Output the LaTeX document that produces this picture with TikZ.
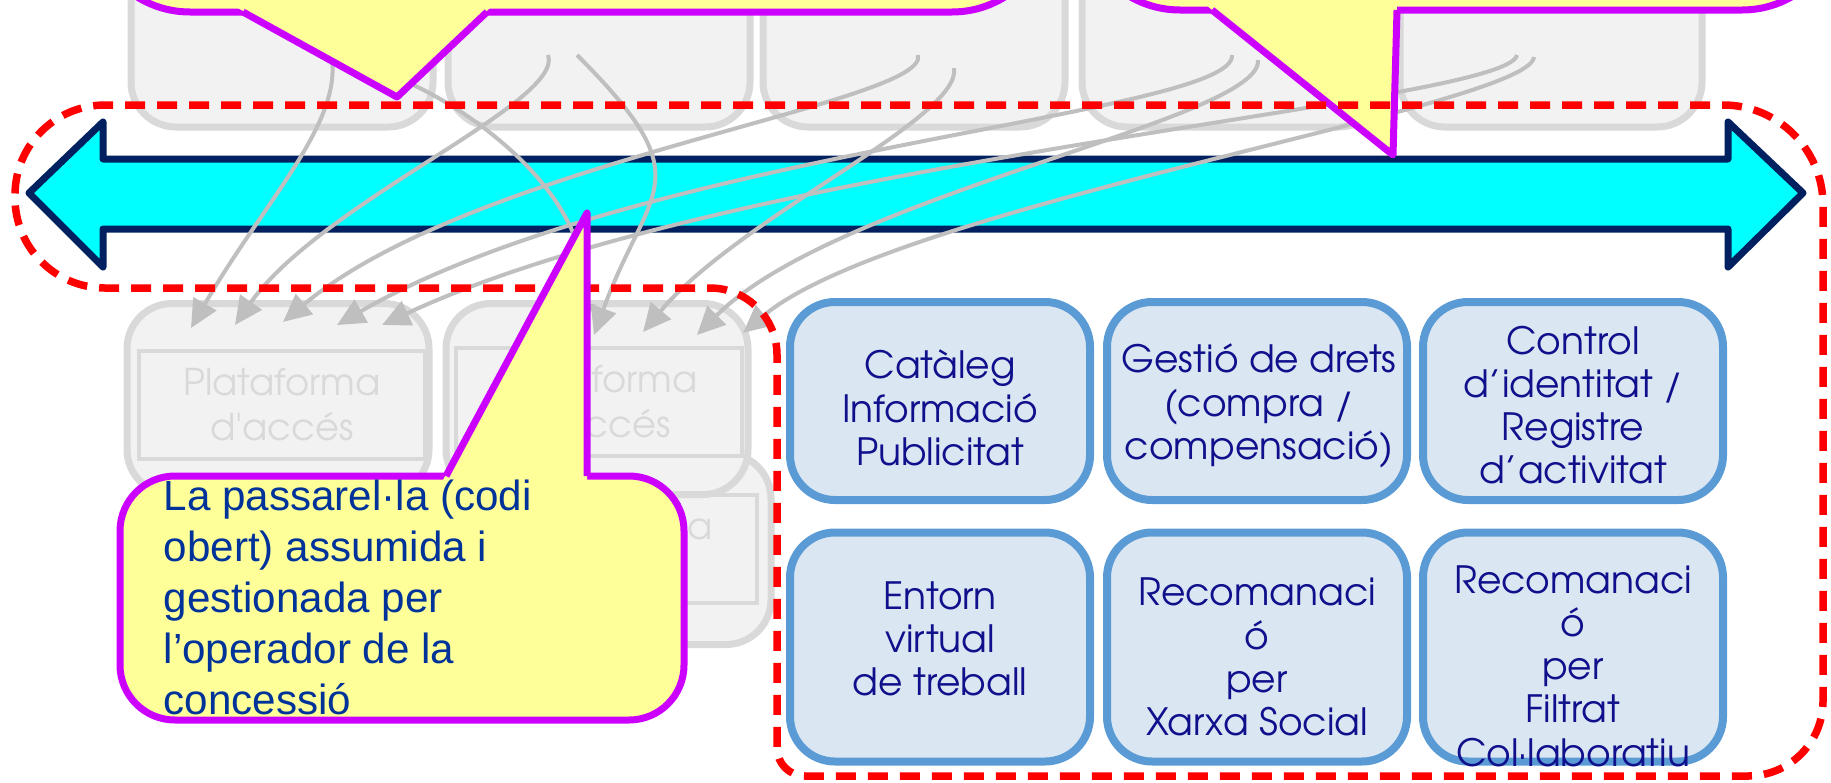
\documentclass[tikz,border=0pt]{standalone}
\usepackage{fontspec}
\setmainfont{Liberation Sans}
\newfontfamily\gothicfont{texgyreadventor-regular.otf}
\usetikzlibrary{arrows.meta}
\definecolor{navyline}{RGB}{0, 32, 96}
\definecolor{busfill}{RGB}{0, 255, 255}
\definecolor{notefill}{RGB}{255, 255, 153}
\definecolor{noteline}{RGB}{204, 0, 255}
\definecolor{notetext}{RGB}{0, 51, 153}
\definecolor{dashred}{RGB}{255, 0, 0}
\definecolor{boxfill}{RGB}{218, 230, 242}
\definecolor{boxline}{RGB}{91, 155, 213}
\definecolor{boxtext}{RGB}{16, 16, 140}
\definecolor{greyfill}{RGB}{242, 242, 242}
\definecolor{greyline}{RGB}{217, 217, 217}
\definecolor{greyflow}{RGB}{191, 191, 191}

\begin{document}
\begin{tikzpicture}[
    greybox/.style={rectangle, rounded corners=4.5mm, draw=greyline, fill=greyfill,
                    line width=0.7mm, minimum width=3.02cm},
    greyinner/.style={rectangle, draw=greyline, line width=0.35mm, minimum width=2.86cm,
                      minimum height=1.08cm, align=center, text=greyline, inner sep=0pt,
                      font=\gothicfont\fontsize{10.5}{12.8}\selectfont},
    service/.style={rectangle, rounded corners=4.5mm, draw=boxline, fill=boxfill,
                    line width=0.8mm, minimum width=3.0cm},
    servicetext/.style={align=center, text=boxtext, inner sep=0pt,
                        font=\gothicfont\fontsize{10.7}{12.3}\selectfont},
    flow/.style={greyflow, line width=0.4mm, -{Triangle[length=2.8mm, width=2.6mm]}},
    note/.style={fill=notefill, draw=noteline, line width=0.7mm},
    noteedge/.style={noteline, line width=0.7mm, line join=round},
    notetextstyle/.style={align=left, text=notetext, inner sep=0pt,
                          font=\fontsize{12}{14.5}\selectfont}]

    \useasboundingbox (0,0) rectangle (18.31,-7.82);
    \clip (0,0) rectangle (18.31,-7.82);

    % Platforms above the bus
    \node[greybox, minimum height=2.8cm] (top1) at (2.82, 0.13) {};
    \node[greybox, minimum height=2.8cm] (top2) at (5.99, 0.13) {};
    \node[greybox, minimum height=2.8cm] (top3) at (9.14, 0.13) {};
    \node[greybox, minimum height=2.8cm] (top4) at (12.33, 0.13) {};
    \node[greybox, minimum height=2.8cm] (top5) at (15.51, 0.13) {};

    % Platforms below the bus
    \node[greybox, minimum height=1.91cm] (plat3) at (6.20, -5.49) {};
    \node[greyinner] (plat3in) at (6.14, -5.49) {Plataforma\\d'accés};
    \node[greybox, minimum height=1.91cm] (plat1) at (2.78, -3.99) {};
    \node[greyinner] (plat1in) at (2.82, -4.05) {Plataforma\\d'accés};
    \node[greybox, minimum height=1.91cm] (plat2) at (5.97, -3.99) {};
    \node[greyinner] (plat2in) at (5.99, -4.02) {Plataforma\\d'accés};

    % Bus
    \draw[fill=busfill, draw=navyline, line width=0.7mm, line join=round]
        (0.29,-1.93) -- (1.03,-1.22) -- (1.03,-1.59) -- (17.28,-1.59) -- (17.28,-1.22)
        -- (18.03,-1.93) -- (17.28,-2.67) -- (17.28,-2.29) -- (1.03,-2.29) -- (1.03,-2.67) -- cycle;

    % Flow ends
    \coordinate (s1) at (3.30, -0.50);
    \coordinate (s2) at (5.48, -0.55);
    \coordinate (s3) at (9.18, -0.55);
    \coordinate (s4) at (12.32, -0.55);
    \coordinate (s5) at (15.17, -0.55);
    \coordinate (s6) at (5.77, -0.55);
    \coordinate (s7) at (9.54, -0.68);
    \coordinate (s8) at (12.58, -0.60);
    \coordinate (s9) at (15.34, -0.57);
    \coordinate (s10) at (3.90, -0.75);
    \coordinate (e1) at (1.91, -3.28);
    \coordinate (e2) at (2.35, -3.25);
    \coordinate (e3) at (2.83, -3.22);
    \coordinate (e4) at (3.37, -3.25);
    \coordinate (e5) at (3.82, -3.25);
    \coordinate (e6) at (5.94, -3.35);
    \coordinate (e7) at (6.43, -3.32);
    \coordinate (e8) at (6.97, -3.35);
    \coordinate (e9) at (7.43, -3.33);
    \coordinate (e10) at (5.78, -3.30);

    % Flows
    \draw[flow] (s1) to[out=-75, in=60, out distance=0.7cm, in distance=1.5cm] (e1);
    \draw[flow] (s2) to[out=-70, in=55, out distance=0.5cm, in distance=1.5cm] (e2);
    \draw[flow] (s3) to[out=-75, in=40, out distance=0.5cm, in distance=2.5cm] (e3);
    \draw[flow] (s4) to[out=-85, in=30, out distance=0.6cm, in distance=3.5cm] (e4);
    \draw[flow] (s5) to[out=-100, in=25, out distance=0.5cm, in distance=4cm] (e5);
    \draw[flow] (s6) to[out=-45, in=70, out distance=1.8cm, in distance=1.6cm] (e6);
    \draw[flow] (s7) to[out=-80, in=50, out distance=0.5cm, in distance=1.5cm] (e7);
    \draw[flow] (s8) to[out=-85, in=45, out distance=0.6cm, in distance=2cm] (e8);
    \draw[flow] (s9) to[out=-95, in=40, out distance=0.5cm, in distance=2cm] (e9);
    \draw[flow] (s10) .. controls (4.70,-1.05) and (6.00,-2.00) .. (e10);

    % Top callouts
    \draw[note, rounded corners=10mm] (0.90,-0.12) rectangle (10.52,1.2);
    \fill[notefill] (2.36,-0.07) -- (3.97,-0.97) -- (4.91,-0.07) -- cycle;
    \draw[noteedge] (2.43,-0.12) -- (3.97,-0.97) -- (4.87,-0.12);
    \draw[note, rounded corners=10mm] (10.80,-0.10) rectangle (18.42,1.2);
    \fill[notefill] (12.06,-0.05) -- (13.93,-1.55) -- (13.97,-0.05) -- cycle;
    \draw[noteedge] (12.12,-0.10) -- (13.93,-1.55) -- (13.97,-0.10);

    % Concession boundary
    \draw[dashred, line width=0.75mm, dash pattern=on 2mm off 1.2mm]
        (8.00,-1.05) [rounded corners=10mm] -- (18.23,-1.05)
        [rounded corners=7.5mm] -- (18.23,-7.76)
        [rounded corners=2.8mm] -- (7.77,-7.76)
        [rounded corners=6.7mm] -- (7.77,-2.88)
        [rounded corners=9mm] -- (0.15,-2.88) -- (0.15,-1.05) -- cycle;

    % Services
    \node[service, minimum height=1.98cm] (cataleg) at (9.40, -4.01) {};
    \node[service, minimum height=1.98cm] (drets) at (12.57, -4.01) {};
    \node[service, minimum height=1.98cm] (control) at (15.73, -4.01) {};
    \node[service, minimum height=2.29cm] (entorn) at (9.40, -6.47) {};
    \node[service, minimum height=2.29cm] (xarxa) at (12.57, -6.47) {};
    \node[service, minimum height=2.29cm] (filtrat) at (15.73, -6.47) {};
    \node[servicetext] (catalegT) at (9.40, -4.08) {Catàleg\\Informació\\Publicitat};
    \node[servicetext] (dretsT) at (12.59, -4.06) {Gestió de drets\\(compra /\\compensació)};
    \node[servicetext] (controlT) at (15.73, -4.05) {Control\\d’identitat /\\Registre\\d’activitat};
    \node[servicetext] (entornT) at (9.40, -6.39) {Entorn\\virtual\\de treball};
    \node[servicetext] (xarxaT) at (12.57, -6.57) {Recomanaci\\ó\\per\\Xarxa Social};
    \node[servicetext] (filtratT) at (15.73, -6.66) {Recomanaci\\ó\\per\\Filtrat\\Col·laboratiu};

    % Gateway callout
    \draw[note, rounded corners=5.5mm] (1.20,-4.76) rectangle (6.84,-7.20);
    \fill[notefill] (4.43,-4.80) -- (5.87,-2.13) -- (5.87,-4.80) -- cycle;
    \draw[noteedge] (4.46,-4.76) -- (5.87,-2.13) -- (5.87,-4.76);
    \node[notetextstyle, anchor=north west] (passarela) at (1.63,-4.79)
        {La passarel·la (codi\\obert) assumida i\\gestionada per\\l’operador de la\\concessió};
\end{tikzpicture}
\end{document}
